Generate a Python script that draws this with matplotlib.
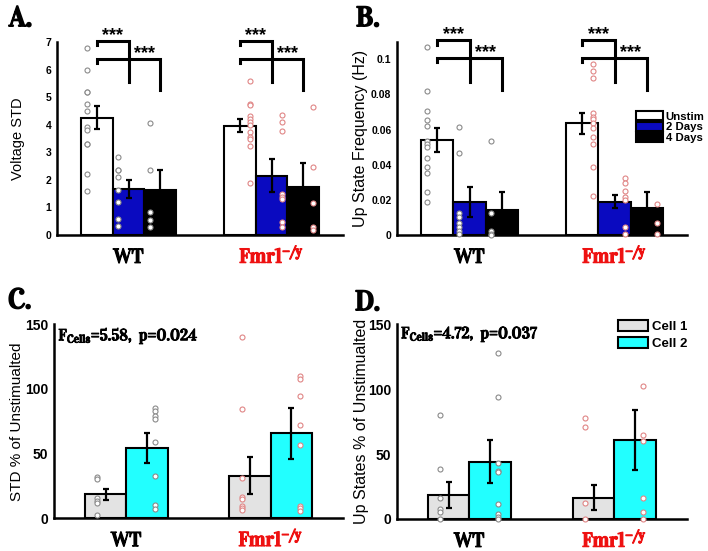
import matplotlib
matplotlib.use('Agg')
import matplotlib.pyplot as plt
import matplotlib.patheffects as pe
from matplotlib.patches import Patch
import numpy as np

# ---------------- data ----------------
groups = ['WT', r'Fmr1$^{\mathrm{-/y}}$']
group_colors = ['black', '#ee1111']
dot_colors = ['#8a8a8a', '#e08585']

ab_conditions = ['Unstim', '2 Days', '4 Days']
ab_colors = ['white', '#0a0ac0', 'black']
cd_conditions = ['Cell 1', 'Cell 2']
cd_colors = ['#e3e3e3', '#22ffff']

# Panel A: Voltage STD
a_means_wt = [4.25, 1.67, 1.63]
a_sems_wt = [0.42, 0.33, 0.72]
a_means_ko = [3.97, 2.15, 1.75]
a_sems_ko = [0.25, 0.59, 0.85]
a_dots_wt = [[6.8, 6.0, 5.2, 5.2, 4.75, 4.5, 3.9, 3.8, 3.3, 3.3, 2.2, 1.6],
             [2.84, 2.35, 2.35, 2.1, 1.63, 1.18, 0.57, 0.33],
             [4.07, 2.35, 0.84, 0.54, 0.28]]
a_dots_ko = [[5.6, 4.75, 4.7, 4.3, 4.22, 4.1, 3.98, 3.74, 3.54, 3.48, 3.23, 1.87],
             [4.34, 4.1, 3.77, 1.48, 1.39, 1.29, 0.48, 0.3],
             [4.65, 2.45, 1.15, 0.28, 0.18]]

# Panel B: Up State Frequency (Hz)
b_means_wt = [0.054, 0.0186, 0.0142]
b_sems_wt = [0.0068, 0.0085, 0.0100]
b_means_ko = [0.0636, 0.019, 0.0152]
b_sems_ko = [0.0060, 0.0038, 0.0091]
b_dots_wt = [[0.1068, 0.082, 0.0704, 0.0655, 0.0619, 0.0537, 0.052, 0.0503, 0.0436,
              0.0389, 0.0351, 0.0243, 0.0186],
             [0.0617, 0.0469, 0.0127, 0.0104, 0.007, 0.0047, 0.0023, 0.0006],
             [0.0535, 0.0127, 0.002, 0.0006, 0.0]]
b_dots_ko = [[0.0972, 0.0934, 0.0896, 0.0693, 0.0674, 0.0658, 0.0636, 0.0611, 0.0556,
              0.0518, 0.0389, 0.0222],
             [0.0323, 0.0294, 0.025, 0.0218, 0.02, 0.0044, 0.0006],
             [0.0176, 0.007, 0.0006]]

# Panel C: STD % of Unstimulated
c_means_wt = [18.6, 54.1]
c_sems_wt = [4.2, 11.6]
c_means_ko = [33.0, 65.7]
c_sems_ko = [14.2, 19.8]
c_dots_wt = [[31.7, 30.2, 16.0, 13.4, 11.6, 2.6],
             [85.6, 83.0, 79.0, 76.5, 58.8, 33.0, 10.3, 7.2]]
c_dots_ko = [[140.0, 84.3, 31.4, 16.8, 14.7, 9.8, 8.2, 6.4],
             [110.3, 107.7, 94.8, 72.2, 56.7, 9.8, 7.7, 5.7]]

# Panel D: Up States % of Unstimulated
d_means_wt = [18.5, 44.2]
d_sems_wt = [9.8, 16.3]
d_means_ko = [16.4, 60.9]
d_sems_ko = [9.8, 22.9]
d_dots_wt = [[80.1, 38.3, 16.4, 7.7, 5.1, 0.0],
             [128.2, 94.3, 42.9, 37.0, 36.0, 11.3, 3.6, 1.8, 0.0]]
d_dots_ko = [[78.1, 70.6, 12.1, 0.0],
             [102.5, 64.7, 60.4, 16.4, 5.1, 0.0]]

c_stat = r'F$_{\mathrm{Cells}}$=5.58,  p=0.024'
d_stat = r'F$_{\mathrm{Cells}}$=4.72,  p=0.037'

# ---------------- style ----------------
SERIF = ['Vidaloka', 'Liberation Serif', 'DejaVu Serif']
SANS = 'Liberation Sans'
plt.rcParams['font.family'] = [SANS, 'DejaVu Sans']
plt.rcParams['mathtext.fontset'] = 'custom'
plt.rcParams['mathtext.rm'] = 'Vidaloka'
plt.rcParams['mathtext.it'] = 'Vidaloka'
plt.rcParams['mathtext.bf'] = 'Vidaloka'
plt.rcParams['mathtext.fallback'] = 'stix'


def heavy(color, lw=0.9):
    return [pe.withStroke(linewidth=lw, foreground=color)]


fig = plt.figure(figsize=(7.08, 5.51), dpi=100)

W, H = 708.0, 551.0
def px_axes(l, t, r, b):
    return fig.add_axes([l / W, 1 - b / H, (r - l) / W, (b - t) / H])

axA = px_axes(57, 42, 343, 235)
axB = px_axes(397, 41.7, 687, 235)
axC = px_axes(54, 324.3, 343, 518.3)
axD = px_axes(396.7, 324.3, 687, 519)


def draw_panel(ax, mw, sw, mk, sk, dw, dk, colors, sides_wt, sides_ko, ylim, yticks,
               yticklabels, ylabel, ylabel_size, tick_size, lpad):
    n = len(mw)
    gw = min(0.8, n / (n + 1.5))
    bw = gw / n
    offs = (np.arange(n) - (n - 1) / 2) * bw
    xs_all = []
    for gi, (means, sems, dots, sides) in enumerate(
            [(mw, sw, dw, sides_wt), (mk, sk, dk, sides_ko)]):
        xs = gi + 1 + offs
        xs_all.append(xs)
        ax.bar(xs, means, width=bw, color=colors, edgecolor='black', linewidth=1.5, zorder=2)
        ax.errorbar(xs, means, yerr=sems, fmt='none', ecolor='black', elinewidth=1.6,
                    capsize=2, capthick=1.6, zorder=4)
        for i in range(n):
            d = np.asarray(dots[i])
            ax.plot(np.full(len(d), xs[i] + sides[i] * bw), d, 'o', mfc='white',
                    mec=dot_colors[gi], ms=3.6, mew=0.8, zorder=3, clip_on=False)
    ax.set_xlim(0.5, 2.5)
    ax.set_ylim(*ylim)
    ax.set_yticks(yticks)
    ax.set_yticklabels(yticklabels, fontweight='bold', fontsize=tick_size)
    ax.set_xticks([1, 2])
    ax.set_xticklabels(groups, fontsize=14.5, family=SERIF)
    for lbl, c in zip(ax.get_xticklabels(), group_colors):
        lbl.set_color(c)
        lbl.set_verticalalignment('baseline')
        lbl.set_path_effects(heavy(c))
    ax.tick_params(axis='x', length=0, pad=20)
    ax.tick_params(axis='y', length=0, pad=4)
    for s in ['top', 'right']:
        ax.spines[s].set_visible(False)
    for s in ['left', 'bottom']:
        ax.spines[s].set_linewidth(1.8)
    ax.set_ylabel(ylabel, fontsize=ylabel_size, labelpad=lpad)
    ax.patch.set_alpha(0)
    return xs_all


def brackets(ax, xs_all, y1, t1, b1, y2, t2, b2, dy_txt):
    for xs in xs_all:
        ax.plot([xs[0], xs[0], xs[1], xs[1]], [t1, y1, y1, b1], color='black', lw=2.2,
                clip_on=False, zorder=5, solid_joinstyle='miter')
        ax.plot([xs[0], xs[0], xs[2], xs[2]], [t2, y2, y2, b2], color='black', lw=2.2,
                clip_on=False, zorder=5, solid_joinstyle='miter')
        ax.text((xs[0] + xs[1]) / 2, y1 - dy_txt, '***', ha='center', va='bottom',
                fontsize=13, fontweight='bold')
        ax.text((xs[1] + xs[2]) / 2, y2 - dy_txt, '***', ha='center', va='bottom',
                fontsize=13, fontweight='bold')


xsA = draw_panel(axA, a_means_wt, a_sems_wt, a_means_ko, a_sems_ko, a_dots_wt, a_dots_ko,
                 ab_colors, [-0.32] * 3, [0.32] * 3, (0, 7), range(0, 8),
                 [str(v) for v in range(0, 8)], 'Voltage STD', 10.5, 7.5, 15)
brackets(axA, xsA, 7.04, 6.88, 5.55, 6.4, 6.25, 5.25, 0.12)

b_ticks = [0, 0.02, 0.04, 0.06, 0.08, 0.1]
xsB = draw_panel(axB, b_means_wt, b_sems_wt, b_means_ko, b_sems_ko, b_dots_wt, b_dots_ko,
                 ab_colors, [-0.33] * 3, [0.33] * 3, (0, 0.11), b_ticks,
                 ['0', '0.02', '0.04', '0.06', '0.08', '0.1'], 'Up State Frequency (Hz)',
                 11.5, 7.5, 2)
brackets(axB, xsB, 0.111, 0.108, 0.0873, 0.1006, 0.0983, 0.0826, 0.0019)

xsC = draw_panel(axC, c_means_wt, c_sems_wt, c_means_ko, c_sems_ko, c_dots_wt, c_dots_ko,
                 cd_colors, [-0.2, 0.2], [-0.2, 0.2], (0, 150), [0, 50, 100, 150],
                 ['0', '50', '100', '150'], 'STD % of Unstimualted', 11, 10, 0.5)
xsD = draw_panel(axD, d_means_wt, d_sems_wt, d_means_ko, d_sems_ko, d_dots_wt, d_dots_ko,
                 cd_colors, [-0.2, 0.2], [-0.2, 0.2], (0, 150), [0, 50, 100, 150],
                 ['0', '50', '100', '150'], 'Up States % of Unstimualted', 11.5, 10, -1)

axC.text(0.015, 0.995, c_stat, transform=axC.transAxes, ha='left', va='top',
         fontsize=11.5, family=SERIF, path_effects=heavy('black', 0.7))
axD.text(0.015, 0.995, d_stat, transform=axD.transAxes, ha='left', va='top',
         fontsize=11.5, family=SERIF, path_effects=heavy('black', 0.7))

# legends
hB = [Patch(facecolor=c, edgecolor='black', linewidth=1.5) for c in ab_colors]
axB.legend(hB, ab_conditions, loc='upper left', bbox_to_anchor=(636 / W, 1 - 111 / H),
           bbox_transform=fig.transFigure, frameon=False, handlelength=2.4,
           handleheight=0.9, labelspacing=0.0, handletextpad=0.2, borderpad=0,
           borderaxespad=0, prop={'weight': 'bold', 'size': 8.2})
hD = [Patch(facecolor=c, edgecolor='black', linewidth=1.5) for c in cd_colors]
axD.legend(hD, cd_conditions, loc='upper left', bbox_to_anchor=(618 / W, 1 - 320 / H),
           bbox_transform=fig.transFigure, frameon=False, handlelength=2.3,
           handleheight=0.9, labelspacing=0.3, handletextpad=0.3, borderpad=0,
           borderaxespad=0, prop={'weight': 'bold', 'size': 9.5})

# panel letters
for lab, (x, y) in zip(['A.', 'B.', 'C.', 'D.'], [(9, 26), (356, 26), (8, 308), (355, 310)]):
    fig.text(x / W, 1 - y / H, lab, fontsize=20, family=SERIF, va='baseline', ha='left',
             path_effects=[pe.withStroke(linewidth=1.3, foreground='black')])

fig.savefig('out.png', dpi=100)
